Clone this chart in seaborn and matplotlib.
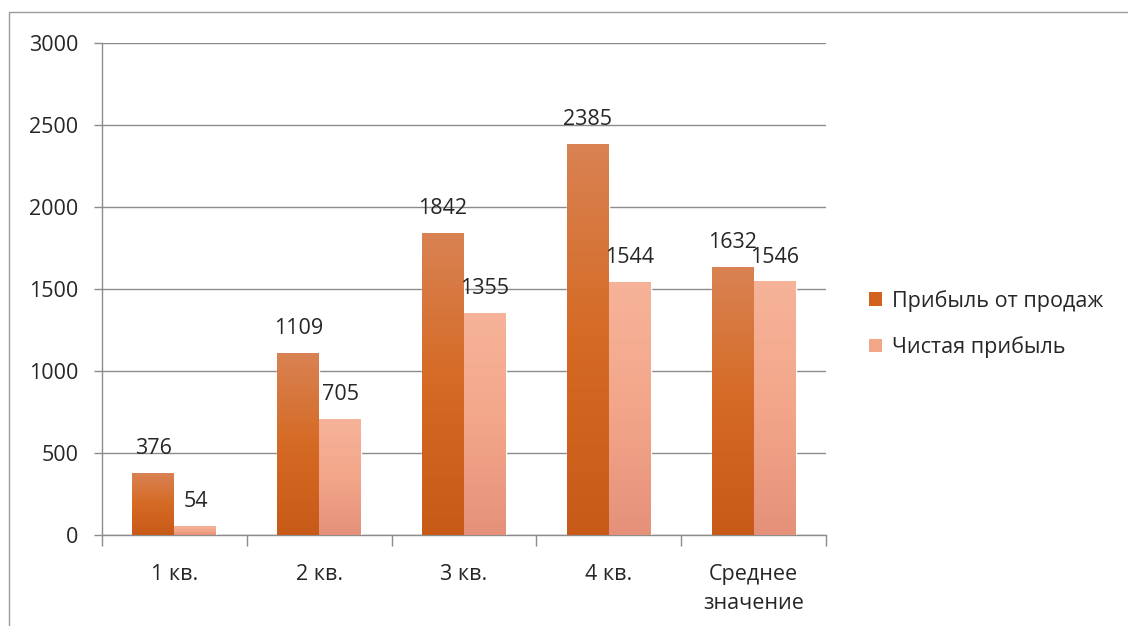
import numpy as np
import pandas as pd
import matplotlib
matplotlib.use("Agg")
import matplotlib.pyplot as plt
import seaborn as sns
from matplotlib.colors import LinearSegmentedColormap
from matplotlib.patches import Rectangle, Patch

categories = ["1 кв.", "2 кв.", "3 кв.", "4 кв.", "Среднее\nзначение"]
series_names = ["Прибыль от продаж", "Чистая прибыль"]
sales_profit = [376, 1109, 1842, 2385, 1632]
net_profit = [54, 705, 1355, 1544, 1546]

sns.set_theme(style="white")
plt.rcParams['font.family'] = ['Open Sans', 'DejaVu Sans']

FS = 15.5

df = pd.DataFrame({
    "cat": categories * 2,
    "series": [series_names[0]] * 5 + [series_names[1]] * 5,
    "value": sales_profit + net_profit,
})

solid = {series_names[0]: "#D2631F", series_names[1]: "#F2A688"}
grads = {series_names[0]: ("#D98253", "#D56A24", "#C75A17"),
         series_names[1]: ("#F6B399", "#F3A689", "#E5917A")}

fig = plt.figure(figsize=(11.28, 6.26), dpi=100)
ax = fig.add_axes([102/1128, 1-535/626, (826-102)/1128, (535-43)/626])

sns.barplot(data=df, x="cat", y="value", hue="series", palette=solid,
            width=0.58, gap=0, ax=ax, legend=False, zorder=3, saturation=1)

ax.set_ylim(0, 3000)
ax.set_xlim(-0.5, 4.5)
ax.set_yticks(np.arange(0, 3001, 500))
ax.yaxis.grid(True, color="#8C8C8C", linewidth=1)
ax.set_axisbelow(True)
for s in ["top", "right"]:
    ax.spines[s].set_visible(False)
for s in ["left", "bottom"]:
    ax.spines[s].set_color("#8C8C8C")
    ax.spines[s].set_linewidth(1)

# x ticks: major at boundaries (no labels), minor at centres with labels
ax.set_xticks(np.arange(-0.5, 5, 1))
ax.set_xticklabels([])
ax.set_xticks(np.arange(5), minor=True)
ax.set_xticklabels(categories, minor=True, fontsize=FS)
ax.tick_params(axis="x", which="major", length=8, width=1, color="#8C8C8C", direction="out", bottom=True)
ax.tick_params(axis="x", which="minor", length=0, pad=21)
ax.tick_params(axis="y", length=6, width=1, color="#8C8C8C", direction="out", left=True, labelsize=FS, pad=11)
ax.set_xlabel("")
ax.set_ylabel("")
for lbl in ax.get_xticklabels(minor=True):
    lbl.set_linespacing(1.5)
    lbl.set_verticalalignment("top")

# gradient overlays
for cont, name in zip(ax.containers, series_names):
    top, mid, bot = grads[name]
    cmap = LinearSegmentedColormap.from_list(name, [bot, mid, top])
    grad = np.linspace(0, 1, 256).reshape(-1, 1)
    for bar in cont:
        x0, y0 = bar.get_x(), bar.get_y()
        w, h = bar.get_width(), bar.get_height()
        im = ax.imshow(grad, cmap=cmap, origin="lower", aspect="auto",
                       extent=[x0, x0 + w, y0, y0 + h], zorder=3.5,
                       interpolation="bilinear")
        im.set_clip_path(bar)
    ax.bar_label(cont, padding=10, fontsize=FS, zorder=5)

ax.set_xlim(-0.5, 4.5)
ax.set_ylim(0, 3000)

handles = [Patch(facecolor=solid[n], edgecolor="none") for n in series_names]
fig.legend(handles, series_names, loc="center left", bbox_to_anchor=(850/1128, 1-324/626),
           frameon=False, fontsize=FS, handlelength=0.6, handleheight=0.6,
           handletextpad=0.45, labelspacing=1.15)

# outer chart frame
fig.add_artist(Rectangle((9/1128, -0.1), 1.2, 1 - 12/626 + 0.1, transform=fig.transFigure,
                         fill=False, edgecolor="#9A9A9A", linewidth=1))

fig.savefig("out.png", dpi=100, facecolor="white")
